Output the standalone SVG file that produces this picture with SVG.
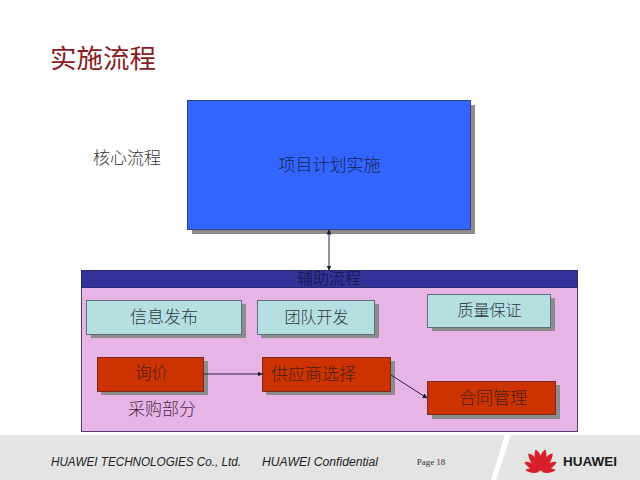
<svg xmlns="http://www.w3.org/2000/svg" width="640" height="480" viewBox="0 0 640 480">
<style>
text{font-family:"Noto Sans CJK SC","Liberation Sans",sans-serif;text-anchor:middle}
.cjk{font-weight:300}
.shadow{fill:#8c8c8c}
.cyan{fill:#b6dfe2;stroke:#5f6f7a;stroke-width:1}
.red{fill:#cc3300;stroke:#7a2a20;stroke-width:1}
.lbl{fill:#2f3a44}
.rl{fill:#4a1f1a}
.foot{font-family:"Liberation Sans",sans-serif;font-style:italic;font-size:12px;fill:#222;text-anchor:start}
.conn{fill:none;stroke:#222244;stroke-width:1}
</style>
<defs>
<marker id="a" viewBox="0 0 5 5" refX="4.5" refY="2.5" markerWidth="5" markerHeight="5" orient="auto-start-reverse" markerUnits="userSpaceOnUse"><path d="M0 0L5 2.5L0 5z" fill="#1a1a33"/></marker>
<path id="petal" d="M0 0C-5 -7 -4.5 -17 -1.5 -22C3 -19 5 -8 0 0Z" fill="#d8202c"/>
</defs>
<rect width="640" height="480" fill="#fff"/>
<text id="title" x="103" y="68" font-size="26.5" fill="#8a1c22">实施流程</text>
<text id="core-label" class="cjk" x="127" y="164" font-size="17" fill="#333">核心流程</text>
<g id="panel">
<rect x="81.5" y="270.5" width="496" height="161" fill="#e6b5e6" stroke="#5c3a78"/>
<rect x="81.5" y="270.5" width="496" height="17" fill="#333399" stroke="#2a2a70"/>
<text x="329" y="284" font-size="16" fill="#1c1c5a">辅助流程</text>
</g>
<g id="node-core">
<rect class="shadow" x="192" y="105" width="283" height="129"/>
<rect x="187.5" y="100.5" width="283" height="129" fill="#3366ff" stroke="#2f3f90"/>
<text class="cjk" x="329.5" y="171" font-size="17" fill="#1a2450">项目计划实施</text>
</g>
<g id="node-info">
<rect class="shadow" x="91" y="304" width="155" height="34"/>
<rect class="cyan" x="86.5" y="300.5" width="155" height="34"/>
<text class="cjk lbl" x="164" y="323" font-size="17">信息发布</text>
</g>
<g id="node-team">
<rect class="shadow" x="261" y="304" width="118" height="34"/>
<rect class="cyan" x="257.5" y="300.5" width="117" height="34"/>
<text class="cjk lbl" x="316.5" y="323" font-size="16">团队开发</text>
</g>
<g id="node-quality">
<rect class="shadow" x="432" y="298" width="123" height="33"/>
<rect class="cyan" x="427.5" y="294.5" width="123" height="33"/>
<text class="cjk lbl" x="489.5" y="316" font-size="16">质量保证</text>
</g>
<g id="node-inquiry">
<rect class="shadow" x="101" y="361" width="107" height="34"/>
<rect class="red" x="97.5" y="357.5" width="106" height="34"/>
<text class="cjk rl" x="151.5" y="379" font-size="16.5">询价</text>
</g>
<g id="node-supplier">
<rect class="shadow" x="266" y="361" width="129" height="34"/>
<rect class="red" x="262.5" y="357.5" width="128" height="34"/>
<text class="cjk rl" x="313.5" y="380" font-size="17">供应商选择</text>
</g>
<g id="node-contract">
<rect class="shadow" x="432" y="385" width="128" height="34"/>
<rect class="red" x="427.5" y="381.5" width="128" height="33"/>
<text class="cjk rl" x="493" y="404" font-size="17">合同管理</text>
</g>
<text id="purchase-label" class="cjk" x="162" y="415" font-size="17" fill="#4a2a4a">采购部分</text>
<g id="connectors">
<path class="conn" d="M329 230V270" marker-start="url(#a)" marker-end="url(#a)"/>
<path class="conn" d="M204 374H262" marker-end="url(#a)"/>
<path class="conn" d="M391 375L427 398" marker-end="url(#a)"/>
</g>
<g id="footer">
<rect y="435" width="640" height="45" fill="#e4e4e4"/>
<path d="M505 435H511L496 480H491z" fill="#fff"/>
<text class="foot" x="51" y="466" textLength="190" lengthAdjust="spacingAndGlyphs">HUAWEI TECHNOLOGIES Co., Ltd.</text>
<text class="foot" x="262" y="466" textLength="116" lengthAdjust="spacingAndGlyphs">HUAWEI Confidential</text>
<text x="431" y="465" font-size="9" fill="#333" style="font-family:'Liberation Serif',serif">Page  18</text>
<g id="logo-mark">
<use href="#petal" transform="translate(540.5 471) rotate(-9) scale(1)"/>
<use href="#petal" transform="translate(540.5 471) rotate(9) scale(-1 1)"/>
<use href="#petal" transform="translate(540 471) rotate(-30) scale(.95)"/>
<use href="#petal" transform="translate(541 471) rotate(30) scale(-.95 .95)"/>
<use href="#petal" transform="translate(539.5 471.5) rotate(-54) scale(.8)"/>
<use href="#petal" transform="translate(541.5 471.5) rotate(54) scale(-.8 .8)"/>
<use href="#petal" transform="translate(539 472) rotate(-78) scale(.62)"/>
<use href="#petal" transform="translate(542 472) rotate(78) scale(-.62 .62)"/>
</g>
<text x="590" y="466" font-size="13.5" font-weight="700" fill="#1a1a1a" textLength="54" lengthAdjust="spacingAndGlyphs" style="font-family:'Liberation Sans',sans-serif">HUAWEI</text>
</g>
</svg>
